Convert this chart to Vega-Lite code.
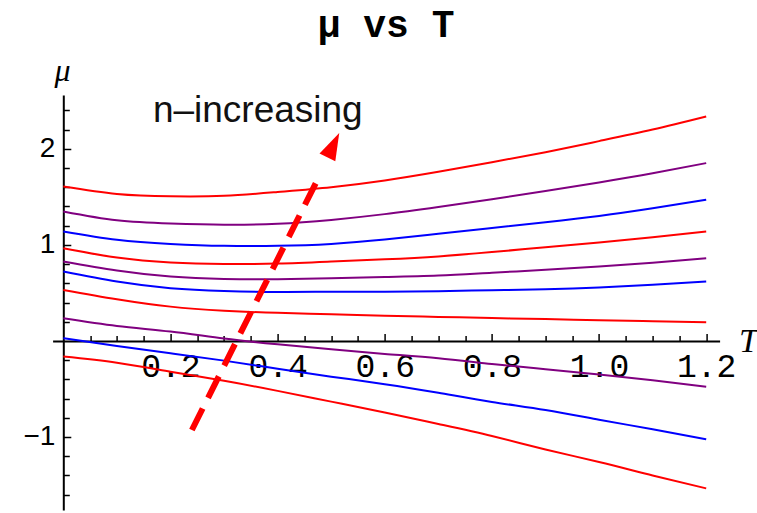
{
  "$schema": "https://vega.github.io/schema/vega-lite/v6.json",
  "width": 667,
  "height": 415,
  "autosize": {"type": "none"},
  "padding": {"left": 52.6, "top": 95, "right": 37, "bottom": 3},
  "background": "white",
  "config": {"view": {"stroke": null}},
  "title": {
    "text": "μ vs T",
    "font": "Liberation Mono",
    "fontWeight": "bold",
    "fontSize": 38,
    "color": "black",
    "anchor": "middle",
    "frame": "group",
    "offset": 9
  },
  "datasets": {
    "curves": [
      {"n": "n1", "T": 0.0, "mu": -0.163}, {"n": "n1", "T": 0.1, "mu": -0.226}, {"n": "n1", "T": 0.2, "mu": -0.32}, {"n": "n1", "T": 0.3, "mu": -0.415}, {"n": "n1", "T": 0.4, "mu": -0.52}, {"n": "n1", "T": 0.5, "mu": -0.632}, {"n": "n1", "T": 0.6, "mu": -0.745}, {"n": "n1", "T": 0.7, "mu": -0.865}, {"n": "n1", "T": 0.8, "mu": -0.99}, {"n": "n1", "T": 0.9, "mu": -1.13}, {"n": "n1", "T": 1.0, "mu": -1.26}, {"n": "n1", "T": 1.1, "mu": -1.4}, {"n": "n1", "T": 1.2, "mu": -1.535},
      {"n": "n2", "T": 0.0, "mu": 0.028}, {"n": "n2", "T": 0.1, "mu": -0.052}, {"n": "n2", "T": 0.2, "mu": -0.128}, {"n": "n2", "T": 0.3, "mu": -0.205}, {"n": "n2", "T": 0.4, "mu": -0.29}, {"n": "n2", "T": 0.5, "mu": -0.372}, {"n": "n2", "T": 0.6, "mu": -0.45}, {"n": "n2", "T": 0.7, "mu": -0.54}, {"n": "n2", "T": 0.8, "mu": -0.635}, {"n": "n2", "T": 0.9, "mu": -0.72}, {"n": "n2", "T": 1.0, "mu": -0.82}, {"n": "n2", "T": 1.1, "mu": -0.92}, {"n": "n2", "T": 1.2, "mu": -1.024},
      {"n": "n3", "T": 0.0, "mu": 0.236}, {"n": "n3", "T": 0.1, "mu": 0.156}, {"n": "n3", "T": 0.2, "mu": 0.097}, {"n": "n3", "T": 0.3, "mu": 0.025}, {"n": "n3", "T": 0.4, "mu": -0.035}, {"n": "n3", "T": 0.5, "mu": -0.087}, {"n": "n3", "T": 0.6, "mu": -0.135}, {"n": "n3", "T": 0.7, "mu": -0.18}, {"n": "n3", "T": 0.8, "mu": -0.24}, {"n": "n3", "T": 0.9, "mu": -0.295}, {"n": "n3", "T": 1.0, "mu": -0.35}, {"n": "n3", "T": 1.1, "mu": -0.41}, {"n": "n3", "T": 1.2, "mu": -0.476},
      {"n": "n4", "T": 0.0, "mu": 0.531}, {"n": "n4", "T": 0.1, "mu": 0.434}, {"n": "n4", "T": 0.2, "mu": 0.357}, {"n": "n4", "T": 0.3, "mu": 0.315}, {"n": "n4", "T": 0.4, "mu": 0.292}, {"n": "n4", "T": 0.5, "mu": 0.278}, {"n": "n4", "T": 0.6, "mu": 0.262}, {"n": "n4", "T": 0.7, "mu": 0.25}, {"n": "n4", "T": 0.8, "mu": 0.238}, {"n": "n4", "T": 0.9, "mu": 0.228}, {"n": "n4", "T": 1.0, "mu": 0.215}, {"n": "n4", "T": 1.1, "mu": 0.205}, {"n": "n4", "T": 1.2, "mu": 0.195},
      {"n": "n5", "T": 0.0, "mu": 0.722}, {"n": "n5", "T": 0.1, "mu": 0.618}, {"n": "n5", "T": 0.2, "mu": 0.549}, {"n": "n5", "T": 0.3, "mu": 0.52}, {"n": "n5", "T": 0.4, "mu": 0.51}, {"n": "n5", "T": 0.5, "mu": 0.512}, {"n": "n5", "T": 0.6, "mu": 0.513}, {"n": "n5", "T": 0.7, "mu": 0.518}, {"n": "n5", "T": 0.8, "mu": 0.528}, {"n": "n5", "T": 0.9, "mu": 0.538}, {"n": "n5", "T": 1.0, "mu": 0.556}, {"n": "n5", "T": 1.1, "mu": 0.585}, {"n": "n5", "T": 1.2, "mu": 0.618},
      {"n": "n6", "T": 0.0, "mu": 0.826}, {"n": "n6", "T": 0.1, "mu": 0.733}, {"n": "n6", "T": 0.2, "mu": 0.67}, {"n": "n6", "T": 0.3, "mu": 0.645}, {"n": "n6", "T": 0.4, "mu": 0.643}, {"n": "n6", "T": 0.5, "mu": 0.653}, {"n": "n6", "T": 0.6, "mu": 0.665}, {"n": "n6", "T": 0.7, "mu": 0.68}, {"n": "n6", "T": 0.8, "mu": 0.71}, {"n": "n6", "T": 0.9, "mu": 0.74}, {"n": "n6", "T": 1.0, "mu": 0.775}, {"n": "n6", "T": 1.1, "mu": 0.815}, {"n": "n6", "T": 1.2, "mu": 0.861},
      {"n": "n7", "T": 0.0, "mu": 0.965}, {"n": "n7", "T": 0.1, "mu": 0.868}, {"n": "n7", "T": 0.2, "mu": 0.816}, {"n": "n7", "T": 0.3, "mu": 0.8}, {"n": "n7", "T": 0.4, "mu": 0.805}, {"n": "n7", "T": 0.5, "mu": 0.826}, {"n": "n7", "T": 0.6, "mu": 0.85}, {"n": "n7", "T": 0.7, "mu": 0.88}, {"n": "n7", "T": 0.8, "mu": 0.925}, {"n": "n7", "T": 0.9, "mu": 0.975}, {"n": "n7", "T": 1.0, "mu": 1.025}, {"n": "n7", "T": 1.1, "mu": 1.08}, {"n": "n7", "T": 1.2, "mu": 1.139},
      {"n": "n8", "T": 0.0, "mu": 1.139}, {"n": "n8", "T": 0.1, "mu": 1.052}, {"n": "n8", "T": 0.2, "mu": 1.01}, {"n": "n8", "T": 0.3, "mu": 0.99}, {"n": "n8", "T": 0.4, "mu": 0.99}, {"n": "n8", "T": 0.5, "mu": 1.01}, {"n": "n8", "T": 0.6, "mu": 1.055}, {"n": "n8", "T": 0.7, "mu": 1.115}, {"n": "n8", "T": 0.8, "mu": 1.175}, {"n": "n8", "T": 0.9, "mu": 1.235}, {"n": "n8", "T": 1.0, "mu": 1.3}, {"n": "n8", "T": 1.1, "mu": 1.38}, {"n": "n8", "T": 1.2, "mu": 1.469},
      {"n": "n9", "T": 0.0, "mu": 1.347}, {"n": "n9", "T": 0.1, "mu": 1.255}, {"n": "n9", "T": 0.2, "mu": 1.222}, {"n": "n9", "T": 0.3, "mu": 1.21}, {"n": "n9", "T": 0.4, "mu": 1.22}, {"n": "n9", "T": 0.5, "mu": 1.26}, {"n": "n9", "T": 0.6, "mu": 1.32}, {"n": "n9", "T": 0.7, "mu": 1.395}, {"n": "n9", "T": 0.8, "mu": 1.475}, {"n": "n9", "T": 0.9, "mu": 1.56}, {"n": "n9", "T": 1.0, "mu": 1.65}, {"n": "n9", "T": 1.1, "mu": 1.745}, {"n": "n9", "T": 1.2, "mu": 1.851},
      {"n": "n10", "T": 0.0, "mu": 1.607}, {"n": "n10", "T": 0.1, "mu": 1.53}, {"n": "n10", "T": 0.2, "mu": 1.505}, {"n": "n10", "T": 0.3, "mu": 1.51}, {"n": "n10", "T": 0.4, "mu": 1.55}, {"n": "n10", "T": 0.5, "mu": 1.6}, {"n": "n10", "T": 0.6, "mu": 1.67}, {"n": "n10", "T": 0.7, "mu": 1.76}, {"n": "n10", "T": 0.8, "mu": 1.86}, {"n": "n10", "T": 0.9, "mu": 1.965}, {"n": "n10", "T": 1.0, "mu": 2.08}, {"n": "n10", "T": 1.1, "mu": 2.2}, {"n": "n10", "T": 1.2, "mu": 2.336}
    ],
    "arrow": [
      {"T": 0.24, "mu": -0.927},
      {"T": 0.479, "mu": 1.729}
    ],
    "arrowTip": [
      {"T": 0.504, "mu": 2.0375}
    ],
    "note": [
      {"T": 0.363, "mu": 2.28, "label": "n–increasing"}
    ]
  },
  "layer": [
    {
      "data": {"name": "curves"},
      "mark": {"type": "line", "strokeWidth": 2, "interpolate": "natural", "clip": false},
      "encoding": {
        "x": {
          "field": "T", "type": "quantitative",
          "scale": {"domain": [-0.02, 1.225], "nice": false, "zero": false},
          "axis": {
            "orient": "bottom", "offset": -168.9,
            "values": [0.2, 0.4, 0.6, 0.8, 1.0, 1.2], "format": ".1f",
            "grid": false, "labelFlush": false, "labelOverlap": false,
            "labelFont": "Liberation Mono", "labelFontSize": 33, "labelColor": "black",
            "labelPadding": 17,
            "tickSize": -7.5, "tickWidth": 1.5, "tickColor": "black",
            "domainColor": "black", "domainWidth": 2,
            "title": "T", "titleFont": "Liberation Serif", "titleFontStyle": "italic",
            "titleFontWeight": "normal", "titleFontSize": 34, "titleColor": "black",
            "titleAngle": 0, "titleAlign": "center", "titleBaseline": "middle",
            "titleX": 695.4, "titleY": 0
          }
        },
        "y": {
          "field": "mu", "type": "quantitative",
          "scale": {"domain": [-1.76, 2.56], "nice": false, "zero": false},
          "axis": {
            "orient": "left", "offset": -10.7,
            "values": [-1, 1, 2], "format": "d",
            "grid": false, "labelFlush": false, "labelOverlap": false,
            "labelFont": "Liberation Sans", "labelFontSize": 28, "labelColor": "black",
            "labelPadding": 16,
            "tickSize": -7.5, "tickWidth": 1.5, "tickColor": "black",
            "domainColor": "black", "domainWidth": 2,
            "title": "μ", "titleFont": "Liberation Serif", "titleFontStyle": "italic",
            "titleFontWeight": "normal", "titleFontSize": 32, "titleColor": "black",
            "titleAngle": 0, "titleAlign": "center", "titleBaseline": "middle",
            "titleX": -1.3, "titleY": -25
          }
        },
        "color": {
          "field": "n", "type": "nominal", "legend": null,
          "scale": {
            "domain": ["n1", "n2", "n3", "n4", "n5", "n6", "n7", "n8", "n9", "n10"],
            "range": ["#ff0000", "#0000ff", "#800080", "#ff0000", "#0000ff", "#800080", "#ff0000", "#0000ff", "#800080", "#ff0000"]
          }
        }
      }
    },
    {
      "data": {"name": "arrow"},
      "mark": {"type": "line", "color": "#ff0000", "strokeWidth": 6, "strokeDash": [24, 12], "strokeCap": "butt"},
      "encoding": {
        "x": {
          "field": "T", "type": "quantitative",
          "axis": {
            "orient": "bottom", "offset": -168.9,
            "values": [0.05, 0.1, 0.15, 0.25, 0.3, 0.35, 0.45, 0.5, 0.55, 0.65, 0.7, 0.75, 0.85, 0.9, 0.95, 1.05, 1.1, 1.15],
            "labels": false, "domain": false, "grid": false, "title": null,
            "tickSize": -5.5, "tickWidth": 1.5, "tickColor": "black"
          }
        },
        "y": {
          "field": "mu", "type": "quantitative",
          "axis": {
            "orient": "left", "offset": -10.7,
            "values": [-1.6, -1.4, -1.2, -0.8, -0.6, -0.4, -0.2, 0.2, 0.4, 0.6, 0.8, 1.2, 1.4, 1.6, 1.8, 2.2, 2.4],
            "labels": false, "domain": false, "grid": false, "title": null,
            "tickSize": -6, "tickWidth": 1.5, "tickColor": "black"
          }
        }
      }
    },
    {
      "data": {"name": "arrowTip"},
      "mark": {"type": "point", "shape": "M0,-1L-0.65,1L0.65,1Z", "filled": true, "color": "#ff0000", "opacity": 1, "size": 729, "angle": 26},
      "encoding": {
        "x": {"field": "T", "type": "quantitative", "axis": null},
        "y": {"field": "mu", "type": "quantitative", "axis": null}
      }
    },
    {
      "data": {"name": "note"},
      "mark": {"type": "text", "font": "Liberation Sans", "fontSize": 37, "align": "center", "baseline": "alphabetic", "color": "#111111"},
      "encoding": {
        "x": {"field": "T", "type": "quantitative", "axis": null},
        "y": {"field": "mu", "type": "quantitative", "axis": null},
        "text": {"field": "label"}
      }
    }
  ],
  "resolve": {"axis": {"x": "independent", "y": "independent"}}
}
